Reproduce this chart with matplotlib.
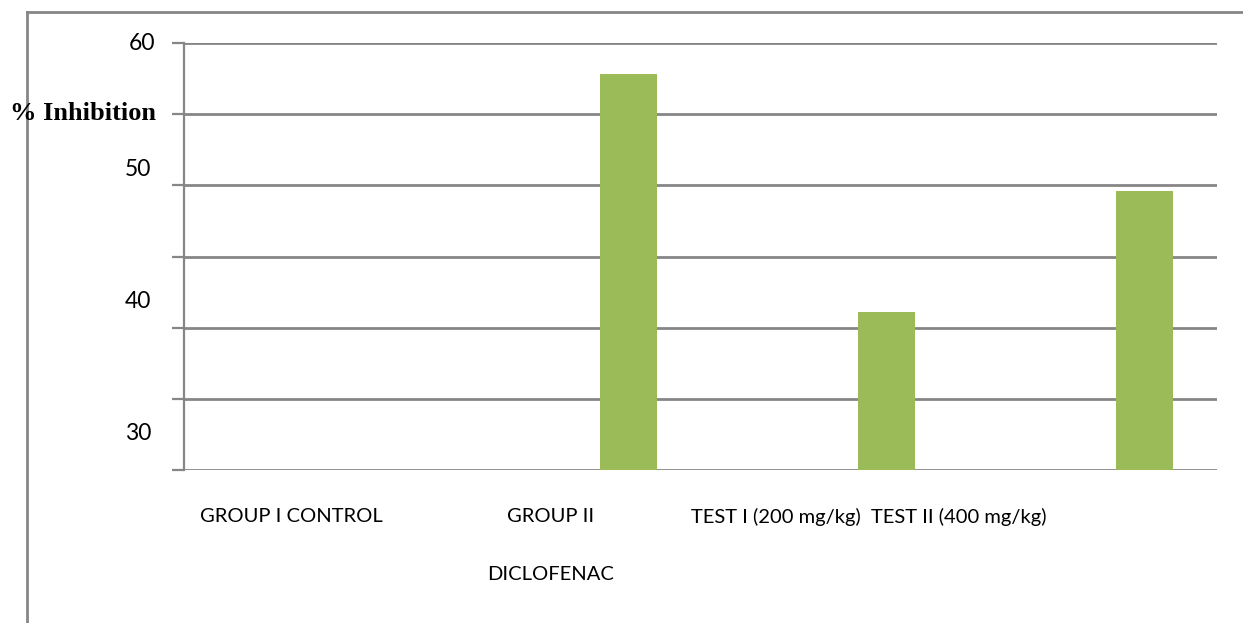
import matplotlib.pyplot as plt
from matplotlib.lines import Line2D

groups = ["GROUP I CONTROL", "GROUP II\nDICLOFENAC", "TEST I (200 mg/kg)", "TEST II (400 mg/kg)"]
inhibition = [0.0, 55.6, 22.2, 39.2]
grid_values = [0, 10, 20, 30, 40, 50, 60]
side_labels = ["60", "50", "40", "30"]

plt.rcParams['font.family'] = ['Lato', 'DejaVu Sans']

fig = plt.figure(figsize=(12.43, 6.23), dpi=100)
ax = fig.add_axes([184 / 1243, 1 - 470 / 623, (1217 - 184) / 1243, (470 - 43) / 623])

grey = "#868686"
x = range(len(groups))
ax.bar([i + 0.22 for i in x], inhibition, width=0.22, color="#9BBB59", zorder=3)

ax.set_xlim(-0.5, len(groups) - 0.5)
ax.set_ylim(0, 60)
ax.set_yticks(grid_values)
ax.set_yticklabels([])
ax.set_xticks([])
ax.yaxis.grid(True, color=grey, linewidth=2)
ax.tick_params(axis='y', length=9, width=1.6, color=grey)
for s in ["top", "right", "bottom"]:
    ax.spines[s].set_visible(False)
ax.spines["left"].set_color(grey)
ax.spines["left"].set_linewidth(1.6)

# value labels on the left sit at their own heights
label_pos = [(155, 44), (151, 170), (151, 302), (151, 434)]
for txt, (px, py) in zip(side_labels, label_pos):
    fig.text(px / 1243, 1 - py / 623, txt, ha="right", va="center", fontsize=16.5)

fig.text(10 / 1243, 1 - 113 / 623, "% Inhibition", ha="left", va="center",
         fontsize=19, fontweight="bold", family="Liberation Serif")

# category names under the axis, second line well below the first
name_x = [291, 551, 776, 959]
for name, px in zip(groups, name_x):
    for k, line in enumerate(name.split("\n")):
        fig.text(px / 1243, 1 - (517 + 58 * k) / 623, line, ha="center", va="center",
                 fontsize=14.5)

# outer frame lines
fig.add_artist(Line2D([27 / 1243, 27 / 1243], [0, 1 - 12 / 623], color=grey, lw=2,
                      transform=fig.transFigure))
fig.add_artist(Line2D([27 / 1243, 1], [1 - 12 / 623, 1 - 12 / 623], color=grey, lw=2,
                      transform=fig.transFigure))

fig.savefig("out.png", dpi=100)
